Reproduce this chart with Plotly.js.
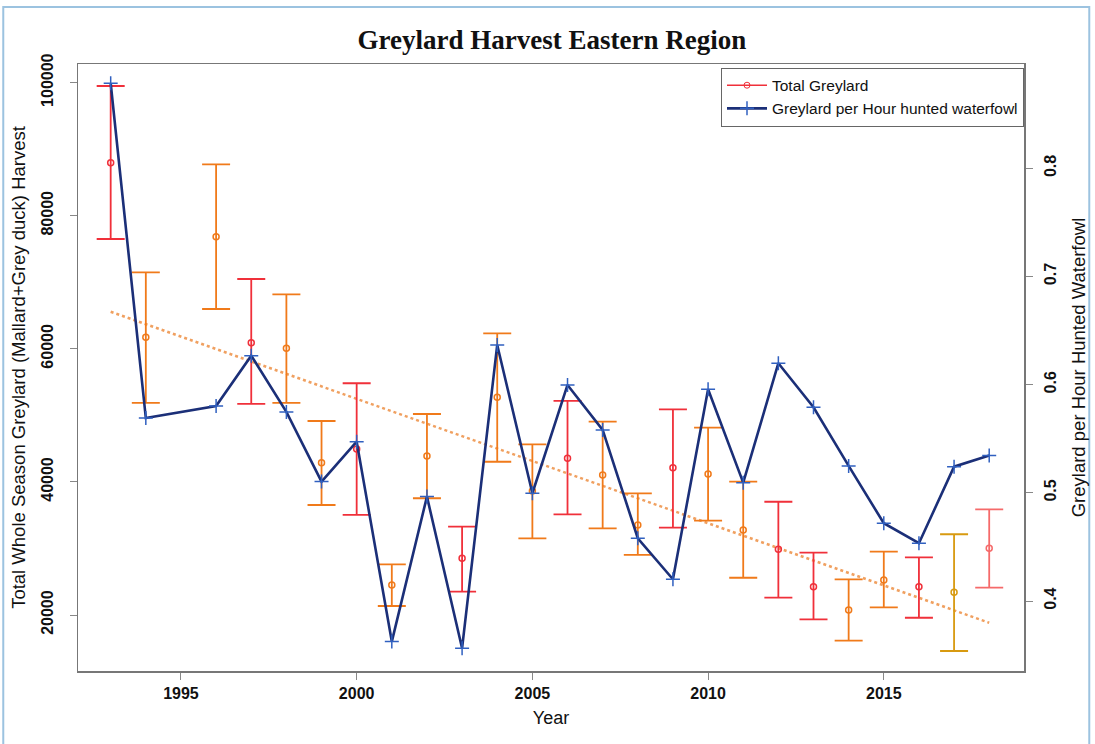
<!DOCTYPE html>
<html>
<head>
<meta charset="utf-8">
<script src="https://cdn.plot.ly/plotly-3.0.1.min.js"></script>
<style>html,body{margin:0;padding:0;background:#fff;}#chart{width:1095px;height:744px;}</style>
</head>
<body>
<div id="chart"></div>
<script>
// ---- data ----
const years = [1993,1994,1996,1997,1998,1999,2000,2001,2002,2003,2004,2005,2006,2007,2008,2009,2010,2011,2012,2013,2014,2015,2016,2017,2018];
const totalGreylard = [87960,61730,76840,60920,60070,42880,44940,24510,43890,28520,52710,38630,43550,41040,33520,42130,41190,32770,29870,24250,20750,25260,24250,23410,30020];
const totalUpper    = [99490,71490,87720,70490,68190,49150,54820,27620,50200,33270,62330,45650,52160,49050,38290,50910,48140,40030,37020,29360,25360,29510,28670,32130,35880];
const totalLower    = [76500,51860,65980,51710,51860,36530,35030,21350,37540,23500,43030,31520,35130,33030,29020,33120,34170,25600,22600,19350,16140,21160,19590,14590,24100];
const perHour       = [0.8786,0.5692,0.5803,0.6268,0.5748,0.5104,0.5473,0.3625,0.4965,0.3564,0.6367,0.4996,0.5997,0.5581,0.4580,0.4201,0.5957,0.5094,0.6198,0.5791,0.5249,0.4719,0.4534,0.5242,0.5344];
const trendYears = [1993, 2018];
const trendValues = [65570, 18840];
const xTicks = [1995, 2000, 2005, 2010, 2015];
const yTicks = [20000, 40000, 60000, 80000, 100000];
const y2Ticks = [0.4, 0.5, 0.6, 0.7, 0.8];

// ---- style (per-point bar colour group) ----
const barGroup = ['r','o','o','r','o','o','r','o','o','r','o','o','r','o','o','r','o','o','r','r','o','o','r','y','p'];
const groupColors = {r:'#f0303a', o:'#f07a1a', y:'#d89a10', p:'#f56a6a'};

const traces = [];
// trend line
traces.push({x: trendYears, y: trendValues, type:'scatter', mode:'lines',
  line:{color:'#f0a060', width:2.5, dash:'dot'}, showlegend:false, hoverinfo:'skip'});

// error bar groups
Object.keys(groupColors).forEach(function(g){
  const xs=[], ys=[], up=[], dn=[];
  years.forEach(function(yr,i){
    if (barGroup[i]===g){ xs.push(yr); ys.push(totalGreylard[i]); up.push(totalUpper[i]-totalGreylard[i]); dn.push(totalGreylard[i]-totalLower[i]); }
  });
  traces.push({x:xs, y:ys, type:'scatter', mode:'markers', showlegend:false,
    marker:{symbol:'circle-open', size:6, color:groupColors[g], line:{width:1.5}},
    error_y:{type:'data', symmetric:false, array:up, arrayminus:dn, color:groupColors[g], thickness:1.8, width:14}});
});

// legend entry for total
traces.push({x:[null], y:[null], type:'scatter', mode:'lines+markers', name:'Total Greylard',
  line:{color:'#f0303a', width:1.5}, marker:{symbol:'circle-open', size:6, color:'#f0303a'}});

// per hour line
traces.push({x: years, y: perHour, type:'scatter', mode:'lines+markers', yaxis:'y2',
  name:'Greylard per Hour hunted waterfowl',
  line:{color:'#1b2f78', width:2.6}, marker:{symbol:'cross-thin-open', size:10, color:'#3060c0', line:{width:1.5, color:'#2a50b0'}}});

const tickFont = {size:16, family:'Liberation Sans, Arial, sans-serif', color:'#111', weight:'bold'};

const layout = {
  width:1095, height:744,
  margin:{l:78, r:71, t:64, b:73},
  paper_bgcolor:'#ffffff', plot_bgcolor:'#ffffff',
  font:{family:'Liberation Sans, Arial, sans-serif', color:'#111'},
  title:{text:'<b>Greylard Harvest Eastern Region</b>', x:0.504, xanchor:'center', y:0.947, yanchor:'middle',
    font:{family:'Liberation Serif, Times New Roman, serif', size:27, color:'#111'}},
  xaxis:{range:[1992.07, 2018.99], tickvals:xTicks, ticktext:xTicks.map(String), showgrid:false, zeroline:false,
    showline:true, linecolor:'#777', linewidth:1.5, mirror:true, ticks:'outside', ticklen:7, tickcolor:'#888',
    tickfont:tickFont,
    title:{text:'Year', font:{size:18}, standoff:10}},
  yaxis:{range:[11585, 102793], tickvals:yTicks, ticktext:yTicks.map(String), showgrid:false, zeroline:false,
    showline:true, linecolor:'#777', linewidth:1.5, ticks:'outside', ticklen:7, tickcolor:'#888', tickangle:-90,
    tickfont:tickFont, ticklabelstandoff:10,
    title:{text:'Total Whole Season Greylard (Mallard+Grey duck) Harvest', font:{size:18.5}, standoff:8}},
  yaxis2:{range:[0.3353, 0.8964], overlaying:'y', side:'right', tickvals:y2Ticks, ticktext:y2Ticks.map(function(v){return v.toFixed(1);}),
    showgrid:false, zeroline:false, showline:true, linecolor:'#777', linewidth:1.5, ticks:'outside', ticklen:7, tickcolor:'#888',
    tickangle:-90, tickfont:tickFont, ticklabelstandoff:4,
    title:{text:'Greylard per Hour Hunted Waterfowl', font:{size:18.5}, standoff:14}},
  legend:{x:1.0, xanchor:'right', y:0.994, yanchor:'top', bordercolor:'#666', borderwidth:1, bgcolor:'#fff',
    font:{size:15.5, color:'#111'}, tracegroupgap:0, itemwidth:40},
  shapes:[{type:'rect', xref:'paper', yref:'paper', x0:-0.079, x1:1.069, y0:-0.122, y1:1.094,
    line:{color:'#9cc3e0', width:2}, fillcolor:'rgba(0,0,0,0)'}],
  showlegend:true
};

Plotly.newPlot('chart', traces, layout, {displayModeBar:false, staticPlot:true});
</script>
</body>
</html>
